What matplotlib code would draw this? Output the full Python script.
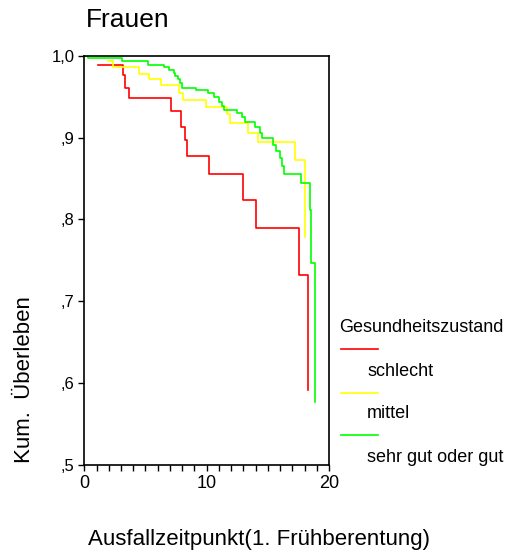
# -*- coding: utf-8 -*-
"""Kaplan-Meier curves for women (Frauen), grouped by health status."""

import matplotlib
matplotlib.use('Agg')
import matplotlib.pyplot as plt
from matplotlib.lines import Line2D

plt.rcParams['font.family'] = ['Liberation Sans', 'DejaVu Sans']

# Step-function values.
times_schlecht = [1.15, 3.17, 3.36, 3.66, 7.1, 7.89, 8.24, 8.43, 10.23,
                  13.01, 14.05, 17.57, 18.3]
surv_schlecht = [0.989, 0.977, 0.961, 0.948, 0.932, 0.913, 0.897, 0.878,
                 0.856, 0.824, 0.790, 0.732, 0.592]

times_mittel = [1.91, 2.37, 4.45, 5.27, 6.28, 7.72, 8.1, 9.96, 11.65, 11.9,
                13.37, 14.19, 17.24, 18.06]
surv_mittel = [0.993, 0.986, 0.978, 0.971, 0.964, 0.955, 0.946, 0.9375,
               0.929, 0.918, 0.906, 0.895, 0.873, 0.778]

times_gut = [0, 0.33, 3.1, 5.19, 6.55, 6.96, 7.31, 7.42, 7.67, 7.83, 8.0,
             9.14, 10.07, 10.64, 11.0, 11.24, 11.43, 12.47, 12.85, 13.15,
             13.97, 14.38, 14.51, 15.42, 15.63, 15.99, 16.18, 16.34, 17.71,
             18.41, 18.52, 18.87]
surv_gut = [1.0, 0.997, 0.993, 0.989, 0.986, 0.983, 0.979, 0.975, 0.971,
            0.967, 0.961, 0.958, 0.954, 0.949, 0.944, 0.939, 0.934, 0.930,
            0.925, 0.919, 0.913, 0.906, 0.900, 0.891, 0.884, 0.875, 0.865,
            0.856, 0.844, 0.812, 0.747, 0.577]

groups = ['schlecht', 'mittel', 'sehr gut oder gut']
colors = ['#ff0000', '#ffff00', '#00ff00']
y_ticks = [0.5, 0.6, 0.7, 0.8, 0.9, 1.0]
y_tick_labels = [',5', ',6', ',7', ',8', ',9', '1,0']
x_ticks = [0, 10, 20]

W, H = 507, 552
fig = plt.figure(figsize=(W / 100, H / 100), dpi=100)
ax = fig.add_axes([84.3 / W, 1 - 465 / H, (329 - 84.3) / W, (465 - 55.7) / H])

series = [(times_schlecht, surv_schlecht), (times_mittel, surv_mittel),
          (times_gut, surv_gut)]
for (t, s), color in zip(series, colors):
    ax.step(t, s, where='post', color=color, linewidth=1.2)

ax.set_xlim(0, 20)
ax.set_ylim(0.5, 1.0)
ax.set_xticks(x_ticks)
ax.set_xticks(range(0, 21), minor=True)
ax.set_yticks(y_ticks)
ax.set_yticklabels(y_tick_labels)
ax.tick_params(axis='both', which='both', direction='out', length=4,
               width=1)
ax.tick_params(axis='x', pad=3, labelsize=13)
ax.tick_params(axis='y', pad=3, labelsize=12)
for spine in ax.spines.values():
    spine.set_linewidth(1.2)

fig.text(86 / W, 1 - 20 / H, 'Frauen', fontsize=19, va='center', ha='left')
fig.text(25 / W, 1 - 380 / H, 'Kum.  Überleben', fontsize=16,
         rotation=90, va='center', ha='center')
fig.text(259 / W, 1 - 540 / H, 'Ausfallzeitpunkt(1. Frühberentung)',
         fontsize=16, va='center', ha='center')

# Legend in SPSS style: title, then a line above each label.
fig.text(339 / W, 1 - 327 / H, 'Gesundheitszustand', fontsize=13,
         va='center', ha='left')
line_y = [349, 393, 435]
text_y = [371, 413, 457]
for name, color, ly, ty in zip(groups, colors, line_y, text_y):
    fig.add_artist(Line2D([341 / W, 378 / W], [1 - ly / H, 1 - ly / H],
                          color=color, linewidth=1.2))
    fig.text(367 / W, 1 - ty / H, name, fontsize=13, va='center',
             ha='left')

fig.savefig('out.png', dpi=100)
